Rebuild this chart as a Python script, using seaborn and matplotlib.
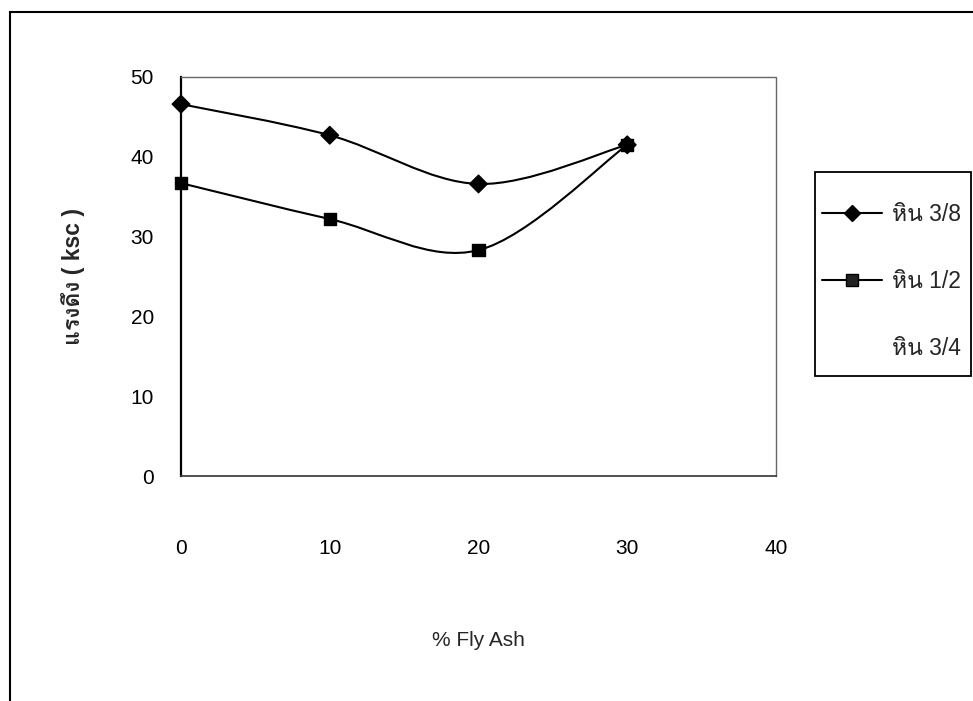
import numpy as np
import pandas as pd
import matplotlib
matplotlib.use("Agg")
import matplotlib.pyplot as plt
import seaborn as sns
from matplotlib import font_manager
from matplotlib.ft2font import FT2Font
from matplotlib.path import Path
from matplotlib.patches import PathPatch, Rectangle
from matplotlib.lines import Line2D

# ---------------- data ----------------
fly_ash = [0, 10, 20, 30]
stone_38 = [46.6, 42.7, 36.6, 41.5]
stone_12 = [36.7, 32.2, 28.3, 41.5]
series_names = ["หิน 3/8", "หิน 1/2", "หิน 3/4"]
x_ticks = [0, 10, 20, 30, 40]
y_ticks = [0, 10, 20, 30, 40, 50]
x_label = "% Fly Ash"
y_label = "แรงดึง ( ksc )"

# ---------------- fonts ----------------
sns.set_style("white")


def find_thai_font():
    for f in font_manager.fontManager.ttflist:
        try:
            cm = FT2Font(f.fname).get_charmap()
            if 0x0E2B in cm and 0x0E36 in cm and 0x0E19 in cm:
                return f.name
        except Exception:
            continue
    return None


thai = find_thai_font()
fams = ["Liberation Sans"] + ([thai] if thai else []) + ["DejaVu Sans"]
plt.rcParams["font.family"] = fams

df = pd.DataFrame({
    "x": fly_ash * 2,
    "y": stone_38 + stone_12,
    "series": [series_names[0]] * len(fly_ash) + [series_names[1]] * len(fly_ash),
})

W, H = 973, 701
fig = plt.figure(figsize=(W / 100, H / 100), dpi=100)
fig.patch.set_facecolor("white")

# plot area in pixel coords
L, R, T, B = 181, 776, 77, 476
ax = fig.add_axes([L / W, 1 - B / H, (R - L) / W, (B - T) / H])


def smooth_path(xs, ys):
    pts = np.column_stack([xs, ys]).astype(float)
    n = len(pts)
    verts = [pts[0]]
    codes = [Path.MOVETO]
    for i in range(n - 1):
        p0 = pts[i - 1] if i > 0 else pts[i]
        p1 = pts[i]
        p2 = pts[i + 1]
        p3 = pts[i + 2] if i + 2 < n else pts[i + 1]
        c1 = p1 + (p2 - p0) / 6.0
        c2 = p2 - (p3 - p1) / 6.0
        verts += [c1, c2, p2]
        codes += [Path.CURVE4] * 3
    return Path(verts, codes)


for ys in (stone_38, stone_12):
    ax.add_patch(PathPatch(smooth_path(fly_ash, ys), facecolor="none",
                           edgecolor="black", lw=1.5, zorder=2))

sns.scatterplot(data=df, x="x", y="y", style="series",
                markers={series_names[0]: "D", series_names[1]: "s"},
                color="black", s=80, edgecolor="black", linewidth=1,
                legend=False, ax=ax, zorder=3, clip_on=False)

ax.set_xlim(0, 40)
ax.set_ylim(0, 50)
ax.set_xticks(x_ticks)
ax.set_yticks(y_ticks)
ax.tick_params(axis="both", direction="out", length=8.5, width=1.2,
               color="black", labelsize=15, labelcolor="black")
ax.tick_params(axis="x", pad=37)
ax.tick_params(axis="y", pad=11)

for s in ("top", "right"):
    ax.spines[s].set_color("#666666")
    ax.spines[s].set_linewidth(1.0)
    ax.spines[s].set_linestyle((0, (2, 1)))
ax.spines["left"].set_color("black")
ax.spines["left"].set_linewidth(1.6)
ax.spines["bottom"].set_color("#333333")
ax.spines["bottom"].set_linewidth(1.2)
ax.grid(False)

ax.set_xlabel(x_label, fontsize=15)
ax.set_ylabel(y_label, fontsize=16.5, fontweight="bold")
ax.xaxis.set_label_coords(0.5, (B - 640) / (B - T))
ax.xaxis.label.set_verticalalignment("center")
ax.yaxis.set_label_coords((73 - L) / (R - L), 0.5)
ax.yaxis.label.set_verticalalignment("center")

handles = [
    Line2D([], [], color="black", lw=1.5, marker="D", markersize=8.5,
           markerfacecolor="black", markeredgecolor="black"),
    Line2D([], [], color="black", lw=1.5, marker="s", markersize=8.5,
           markerfacecolor="#222222", markeredgecolor="black"),
    Line2D([], [], color="none", lw=0),
]
leg = fig.legend(handles, series_names, loc="upper left",
                 bbox_to_anchor=(822 / W, 1 - 203 / H),
                 bbox_transform=fig.transFigure,
                 fontsize=16.5, frameon=False,
                 handlelength=2.62, handletextpad=0.44,
                 labelspacing=1.92, borderpad=0, borderaxespad=0)

# legend box frame
fig.add_artist(Rectangle((815 / W, 1 - 376 / H), (971 - 815) / W, (376 - 172) / H,
                         transform=fig.transFigure, fill=False,
                         edgecolor="black", lw=1.3, zorder=5))

# outer chart-area border (scan: only left and top edges visible)
fig.add_artist(Rectangle((10 / W, -0.1), 1.2, 1 - 12 / H + 0.1,
                         transform=fig.transFigure, fill=False,
                         edgecolor="black", lw=1.5))

fig.savefig("out.png", dpi=100, facecolor="white")
